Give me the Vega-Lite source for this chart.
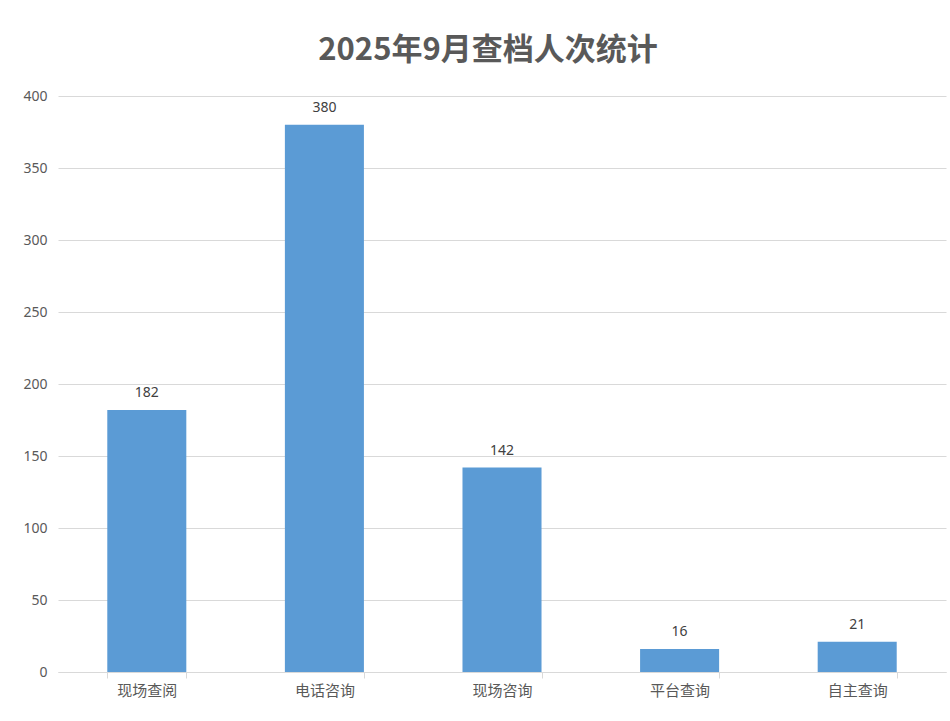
{
  "$schema": "https://vega.github.io/schema/vega-lite/v6.json",
  "autosize": "none",
  "width": 888,
  "height": 576,
  "padding": {"left": 58, "top": 96, "right": 4, "bottom": 49},
  "background": "white",
  "title": {
    "text": "2025年9月查档人次统计",
    "font": "Noto Sans CJK SC",
    "fontSize": 31,
    "fontWeight": "bold",
    "color": "#595959",
    "anchor": "middle",
    "dx": -14,
    "offset": 22
  },
  "data": {
    "values": [
      {"type": "现场查阅", "count": 182},
      {"type": "电话咨询", "count": 380},
      {"type": "现场咨询", "count": 142},
      {"type": "平台查询", "count": 16},
      {"type": "自主查询", "count": 21}
    ]
  },
  "encoding": {
    "x": {
      "field": "type",
      "type": "nominal",
      "sort": null,
      "scale": {"paddingInner": 0.555, "paddingOuter": 0.2775},
      "axis": {
        "title": null,
        "labelAngle": 0,
        "labelFont": "Noto Sans CJK SC",
        "labelFontSize": 15,
        "labelColor": "#595959",
        "labelPadding": 5,
        "domainColor": "#d9d9d9",
        "tickColor": "#d9d9d9",
        "tickBand": "extent",
        "tickSize": 6
      }
    },
    "y": {
      "field": "count",
      "type": "quantitative",
      "scale": {"domain": [0, 400], "nice": false},
      "axis": {
        "title": null,
        "values": [0, 50, 100, 150, 200, 250, 300, 350, 400],
        "domain": false,
        "ticks": false,
        "labelFont": "Noto Sans",
        "labelFontSize": 14,
        "labelColor": "#595959",
        "labelPadding": 11,
        "gridColor": "#d9d9d9"
      }
    }
  },
  "layer": [
    {"mark": {"type": "bar", "color": "#5b9bd5"}},
    {
      "mark": {
        "type": "text",
        "baseline": "bottom",
        "dy": -10,
        "font": "Noto Sans",
        "fontSize": 14,
        "color": "#404040"
      },
      "encoding": {"text": {"field": "count", "type": "quantitative"}}
    }
  ],
  "config": {"view": {"stroke": null}}
}
